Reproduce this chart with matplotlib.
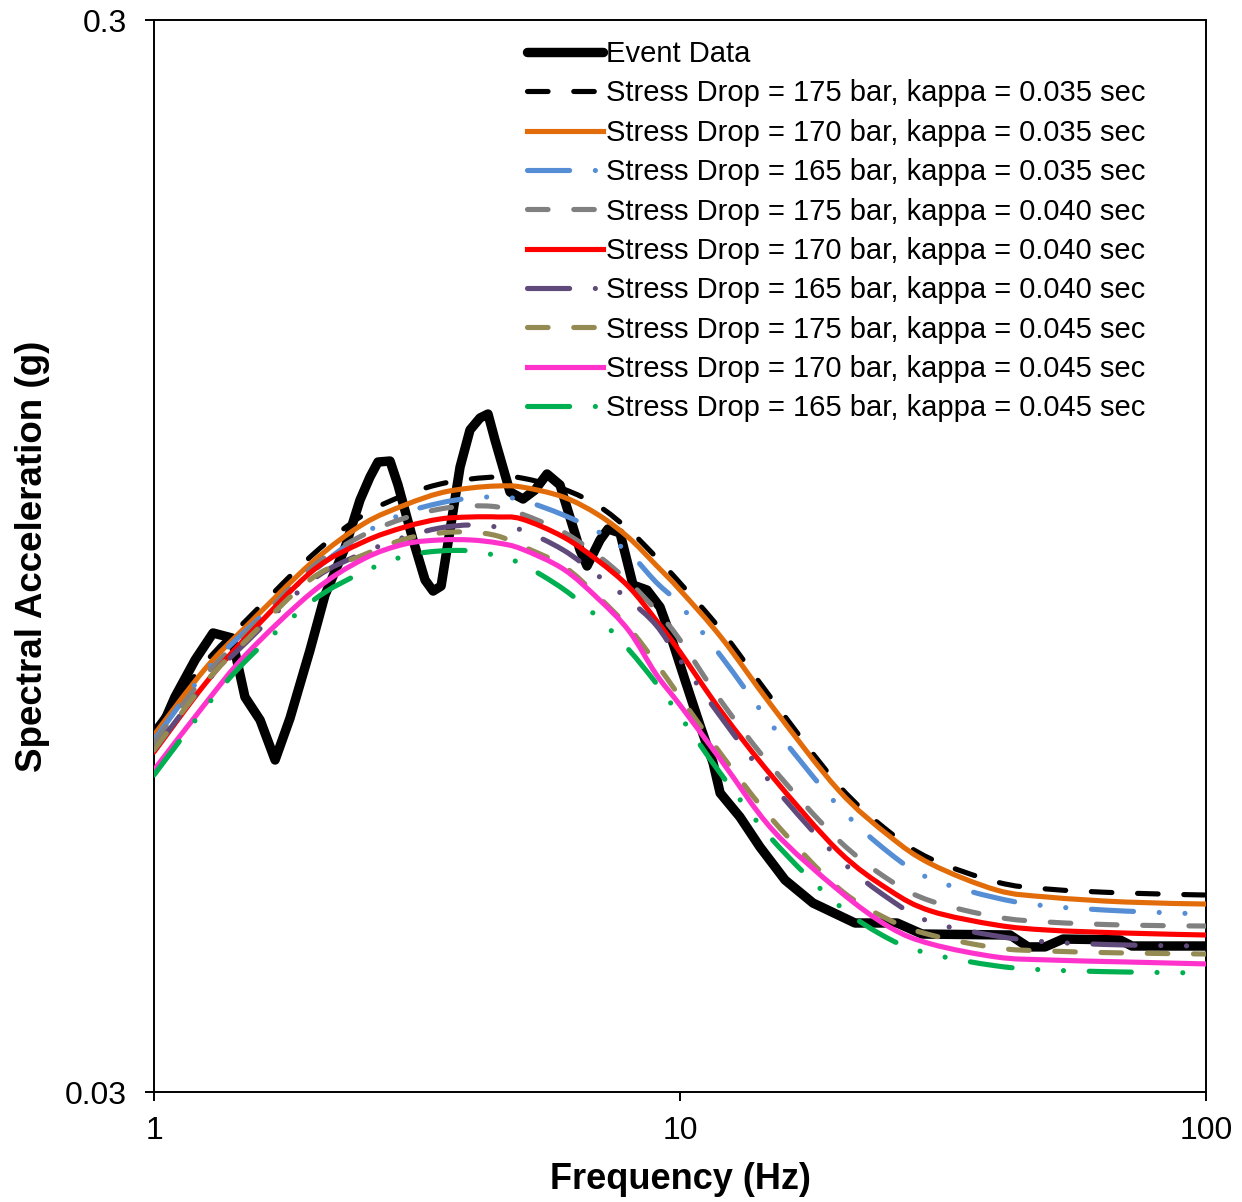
import matplotlib
matplotlib.use("Agg")
import numpy as np
import matplotlib.pyplot as plt
from matplotlib.path import Path
from matplotlib.patches import PathPatch
from matplotlib.lines import Line2D
from matplotlib.ticker import FixedLocator, FixedFormatter, NullLocator

plt.rcParams['font.family'] = ['Liberation Sans', 'DejaVu Sans']

# ---------------- data ----------------
event_freq = [1.0, 1.096, 1.197, 1.295, 1.407, 1.489, 1.591, 1.699, 1.814, 1.980,
              2.114, 2.307, 2.464, 2.574, 2.666, 2.810, 2.910, 3.108, 3.276, 3.393,
              3.514, 3.655, 3.818, 3.988, 4.166, 4.315, 4.449, 4.752, 5.030, 5.301,
              5.587, 5.914, 6.456, 6.657, 7.046, 7.297, 7.691, 8.142, 8.655, 9.162,
              9.656, 10.22, 10.91, 11.56, 11.92, 13.00, 14.19, 15.84, 17.90, 21.51,
              25.86, 28.85, 42.40, 45.88, 49.43, 53.48, 68.62, 72.32, 100.0]
event_sa = [0.06321, 0.07008, 0.07588, 0.08041, 0.07955, 0.07008, 0.06670, 0.06121, 0.06698, 0.07753,
            0.08724, 0.09652, 0.10699, 0.11241, 0.11609, 0.11634, 0.11050, 0.09819, 0.09010, 0.08799,
            0.08894, 0.10032, 0.11485, 0.12436, 0.12760, 0.12870, 0.12171, 0.10885, 0.10722, 0.10932,
            0.11314, 0.11050, 0.09609, 0.09285, 0.09819, 0.10054, 0.09968, 0.08913, 0.08818, 0.08502,
            0.07921, 0.07269, 0.06598, 0.06082, 0.05702, 0.05416, 0.05078, 0.04730, 0.04502, 0.04313,
            0.04313, 0.04212, 0.04203, 0.04097, 0.04097, 0.04167, 0.04159, 0.04105, 0.04105]

model_freq = [1.0, 1.25, 1.5, 2.0, 2.5, 3.0, 3.5, 4.0, 4.5, 5.0, 6.0, 7.0, 8.0, 9.0,
              10.0, 12.0, 15.0, 20.0, 25.0, 30.0, 40.0, 50.0, 70.0, 100.0]

sa_175_035 = [0.06528, 0.07540, 0.08269, 0.09507, 0.10361, 0.10815, 0.11073, 0.11193, 0.11241, 0.11217,
              0.10955, 0.10562, 0.10032, 0.09466, 0.08952, 0.08076, 0.06962, 0.05801, 0.05244, 0.04949,
              0.04710, 0.04639, 0.04600, 0.04580]
sa_170_035 = [0.06458, 0.07443, 0.08163, 0.09365, 0.10162, 0.10585, 0.10861, 0.10979, 0.11026, 0.11002,
              0.10769, 0.10361, 0.09861, 0.09305, 0.08818, 0.07955, 0.06859, 0.05739, 0.05199, 0.04896,
              0.04629, 0.04560, 0.04512, 0.04492]
sa_165_035 = [0.06389, 0.07395, 0.08093, 0.09166, 0.09946, 0.10405, 0.10631, 0.10745, 0.10769, 0.10699,
              0.10361, 0.09989, 0.09548, 0.08971, 0.08539, 0.07637, 0.06584, 0.05545, 0.05013, 0.04741,
              0.04551, 0.04473, 0.04425, 0.04397]
sa_175_040 = [0.06348, 0.07332, 0.08041, 0.09265, 0.09925, 0.10294, 0.10495, 0.10562, 0.10540, 0.10383,
              0.09989, 0.09486, 0.08971, 0.08447, 0.07921, 0.06933, 0.06017, 0.05155, 0.04730, 0.04521,
              0.04369, 0.04322, 0.04294, 0.04285]
sa_170_040 = [0.06227, 0.07207, 0.07973, 0.09186, 0.09777, 0.10097, 0.10272, 0.10316, 0.10316, 0.10272,
              0.09883, 0.09385, 0.08875, 0.08269, 0.07720, 0.06785, 0.05902, 0.05035, 0.04629, 0.04425,
              0.04294, 0.04248, 0.04221, 0.04203]
sa_165_040 = [0.06254, 0.07207, 0.07887, 0.09010, 0.09548, 0.09883, 0.10076, 0.10141, 0.10097, 0.10032,
              0.09609, 0.09087, 0.08631, 0.08181, 0.07588, 0.06698, 0.05801, 0.04959, 0.04541, 0.04322,
              0.04194, 0.04141, 0.04114, 0.04105]
sa_175_045 = [0.06254, 0.07222, 0.07921, 0.09048, 0.09507, 0.09840, 0.09968, 0.09989, 0.09904, 0.09693,
              0.09285, 0.08687, 0.08128, 0.07540, 0.07008, 0.06187, 0.05381, 0.04649, 0.04341, 0.04203,
              0.04088, 0.04061, 0.04044, 0.04035]
sa_170_045 = [0.05991, 0.06903, 0.07687, 0.08780, 0.09425, 0.09735, 0.09819, 0.09819, 0.09756, 0.09631,
              0.09225, 0.08649, 0.08076, 0.07364, 0.06888, 0.06108, 0.05267, 0.04629, 0.04276, 0.04123,
              0.04009, 0.03984, 0.03967, 0.03950]
sa_165_045 = [0.05927, 0.06844, 0.07588, 0.08612, 0.09166, 0.09486, 0.09590, 0.09590, 0.09487, 0.09326,
              0.08837, 0.08303, 0.07753, 0.07222, 0.06727, 0.05927, 0.05155, 0.04483, 0.04167, 0.04035,
              0.03933, 0.03899, 0.03882, 0.03874]

labels = ["Stress Drop = 175 bar, kappa = 0.035 sec",
          "Stress Drop = 170 bar, kappa = 0.035 sec",
          "Stress Drop = 165 bar, kappa = 0.035 sec",
          "Stress Drop = 175 bar, kappa = 0.040 sec",
          "Stress Drop = 170 bar, kappa = 0.040 sec",
          "Stress Drop = 165 bar, kappa = 0.040 sec",
          "Stress Drop = 175 bar, kappa = 0.045 sec",
          "Stress Drop = 170 bar, kappa = 0.045 sec",
          "Stress Drop = 165 bar, kappa = 0.045 sec"]

x_ticks = [1, 10, 100]
x_ticklabels = ["1", "10", "100"]
y_ticks = [0.03, 0.3]
y_ticklabels = ["0.03", "0.3"]

# ---------------- styles ----------------
dash = (0, (4.0, 5.0))
dashdotdot = (0, (8.2, 5.0, 0.01, 5.0, 0.01, 5.0))
series = [
    (sa_175_035, '#000000', dash),
    (sa_170_035, '#E36C0A', '-'),
    (sa_165_035, '#558ED5', dashdotdot),
    (sa_175_040, '#808080', dash),
    (sa_170_040, '#FF0000', '-'),
    (sa_165_040, '#604A7B', dashdotdot),
    (sa_175_045, '#948A54', dash),
    (sa_170_045, '#FF33CC', '-'),
    (sa_165_045, '#00B050', dashdotdot),
]
MODEL_LW = 3.7
EVENT_LW = 6.8


def smoothed_path(x, y):
    """Smooth (Excel-like) Bezier path through the data points, built in log-log space."""
    P = np.column_stack([np.log10(x), np.log10(y)])
    n = len(P)
    verts = [P[0]]
    codes = [Path.MOVETO]
    for i in range(n - 1):
        p0 = P[i - 1] if i > 0 else P[i]
        p1, p2 = P[i], P[i + 1]
        p3 = P[i + 2] if i + 2 < n else P[i + 1]
        verts += [p1 + (p2 - p0) / 6.0, p2 - (p3 - p1) / 6.0, p2]
        codes += [Path.CURVE4] * 3
    return Path(10 ** np.array(verts), codes)


fig = plt.figure(figsize=(12.42, 12.02), dpi=100)
ax = fig.add_axes([154/1242, 1 - 1092/1202, (1206-154)/1242, (1092-20)/1202])

ax.set_xscale('log')
ax.set_yscale('log')
ax.set_xlim(1, 100)
ax.set_ylim(0.03, 0.3)

ax.plot(event_freq, event_sa, color='black', lw=EVENT_LW, solid_capstyle='round',
        solid_joinstyle='round', zorder=2)
handles = [Line2D([], [], color='black', lw=EVENT_LW, solid_capstyle='round')]
for i, ((vals, col, ls), lab) in enumerate(zip(series, labels)):
    patch = PathPatch(smoothed_path(model_freq, vals), fill=False, edgecolor=col,
                      lw=MODEL_LW, linestyle=ls, capstyle='round', joinstyle='round',
                      zorder=3 + i)
    ax.add_patch(patch)
    handles.append(Line2D([], [], color=col, lw=MODEL_LW, linestyle=ls,
                          dash_capstyle='round'))

ax.xaxis.set_major_locator(FixedLocator(x_ticks))
ax.xaxis.set_major_formatter(FixedFormatter(x_ticklabels))
ax.yaxis.set_major_locator(FixedLocator(y_ticks))
ax.yaxis.set_major_formatter(FixedFormatter(y_ticklabels))
ax.xaxis.set_minor_locator(NullLocator())
ax.yaxis.set_minor_locator(NullLocator())

ax.tick_params(axis='both', which='major', direction='out', length=6.5, width=1.4,
               labelsize=23, colors='black')
ax.tick_params(axis='x', pad=11)
ax.tick_params(axis='y', pad=13)
for sp in ax.spines.values():
    sp.set_linewidth(1.4)
    sp.set_color('black')

ax.set_xlabel('Frequency (Hz)', fontsize=26, fontweight='bold', labelpad=11)
ax.set_ylabel('Spectral Acceleration (g)', fontsize=26.5, fontweight='bold', labelpad=11)

leg = ax.legend(handles, ['Event Data'] + labels, loc='upper left',
                bbox_to_anchor=(527/1242, 0.9667),
                bbox_transform=fig.transFigure, frameon=False, borderpad=0,
                borderaxespad=0, handlelength=2.6, handletextpad=0.1,
                labelspacing=0.39, fontsize=21)

fig.savefig('out.png', dpi=100)
